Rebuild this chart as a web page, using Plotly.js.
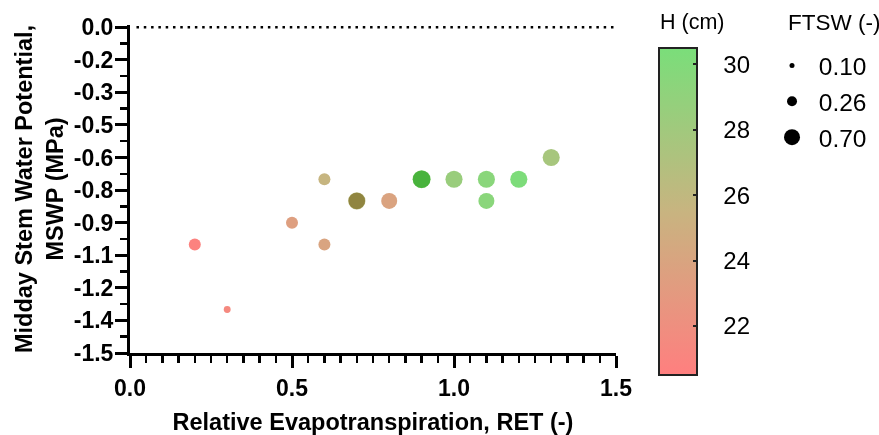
<!DOCTYPE html>
<html>
<head>
<meta charset="utf-8">
<script src="https://cdn.plot.ly/plotly-3.0.1.min.js"></script>
<style>
  html, body { margin: 0; padding: 0; background: #fff; }
  #chart { width: 879px; height: 435px; }
  /* overlapping observations darken each other */
  .js-plotly-plot .scatterlayer .trace path.point { mix-blend-mode: multiply; }
</style>
</head>
<body>
<div id="chart"></div>
<script>
// ---- data ----
const ret     = [0.2, 0.3, 0.5, 0.6, 0.6, 0.7, 0.7, 0.8, 0.9, 0.9, 1.0, 1.1, 1.1, 1.2, 1.3];
const mswp    = [-1.0, -1.3, -0.9, -1.0, -0.7, -0.8, -0.8, -0.8, -0.7, -0.7, -0.7, -0.7, -0.8, -0.7, -0.6];
const heightH = [20.8, 21.4, 23.5, 24.0, 25.6, 25.5, 26.5, 23.9, 29.0, 30.2, 28.5, 29.5, 29.5, 30.3, 27.6];
const ftsw    = [0.37, 0.16, 0.37, 0.37, 0.37, 0.62, 0.66, 0.59, 0.70, 0.68, 0.65, 0.65, 0.59, 0.65, 0.65];

const yTickLabels = ["0.0", "-0.2", "-0.3", "-0.5", "-0.6", "-0.8", "-0.9", "-1.1", "-1.2", "-1.4", "-1.5"];
const colorTicks  = [22, 24, 26, 28, 30];
const legendFtsw  = [0.10, 0.26, 0.70];

// ---- styling helpers ----
const FONT = 'Arial, "Liberation Sans", sans-serif';
const NB = '\u00a0';
const legendSizes = [5, 10, 18];   // marker diameter (px) for the legend FTSW values
function sizeFor(v) {
  if (v <= legendFtsw[0]) return legendSizes[0];
  for (let i = 1; i < legendFtsw.length; i++) {
    if (v <= legendFtsw[i]) {
      const f = (v - legendFtsw[i - 1]) / (legendFtsw[i] - legendFtsw[i - 1]);
      return legendSizes[i - 1] + f * (legendSizes[i] - legendSizes[i - 1]);
    }
  }
  return legendSizes[legendSizes.length - 1];
}

const colorscale = [
  [0.0, 'rgb(255,127,127)'],
  [0.5, 'rgb(200,180,128)'],
  [1.0, 'rgb(122,222,122)']
];

const yStep = 0.15;
const yTickVals = yTickLabels.map((_, i) => -yStep * i);

const traces = [{
  type: 'scatter',
  mode: 'markers',
  x: ret,
  y: mswp,
  showlegend: false,
  cliponaxis: false,
  marker: {
    size: ftsw.map(sizeFor),
    color: heightH,
    colorscale: colorscale,
    cmin: 20.5,
    cmax: 30.5,
    opacity: 1,
    line: { width: 0 },
    colorbar: {
      tickmode: 'array',
      tickvals: colorTicks,
      ticktext: colorTicks.map(v => NB + NB + NB + v),
      ticks: 'inside',
      ticklen: 5,
      tickwidth: 2,
      tickcolor: '#222',
      tickfont: { family: FONT, size: 24, color: '#000' },
      thickness: 38,
      thicknessmode: 'pixels',
      len: 327,
      lenmode: 'pixels',
      x: 1.0885,
      xanchor: 'left',
      xpad: 0,
      y: 0.9299,
      yanchor: 'top',
      ypad: 0,
      outlinewidth: 2,
      outlinecolor: '#222'
    }
  }
}];

legendFtsw.forEach((v, i) => {
  traces.push({
    type: 'scatter',
    mode: 'markers',
    x: [null],
    y: [null],
    name: NB + v.toFixed(2),
    legendgroup: 'g' + i,
    showlegend: true,
    marker: { size: sizeFor(v), color: '#000', line: { width: 0 } }
  });
});

const layout = {
  width: 879,
  height: 435,
  margin: { l: 130, r: 263, t: 25, b: 82, autoexpand: false },
  paper_bgcolor: '#fff',
  plot_bgcolor: '#fff',
  font: { family: FONT, color: '#000' },
  showlegend: true,
  legend: {
    font: { family: FONT, size: 24.5, color: '#000' },
    x: 1.321,
    xanchor: 'left',
    y: 0.945,
    yanchor: 'top',
    tracegroupgap: 1,
    traceorder: 'grouped',
    itemsizing: 'trace',
    bgcolor: 'rgba(0,0,0,0)'
  },
  annotations: [{
    text: 'H (cm)',
    xref: 'paper', yref: 'paper',
    x: 1.0864, y: 1.0091,
    xanchor: 'left', yanchor: 'middle',
    showarrow: false,
    font: { family: FONT, size: 21.5, color: '#000' }
  }, {
    text: 'FTSW (-)',
    xref: 'paper', yref: 'paper',
    x: 1.3498, y: 1.0091,
    xanchor: 'left', yanchor: 'middle',
    showarrow: false,
    font: { family: FONT, size: 22.5, color: '#000' }
  }],
  xaxis: {
    range: [0, 1.5],
    tickmode: 'linear',
    tick0: 0,
    dtick: 0.5,
    tickformat: '.1f',
    showgrid: false,
    zeroline: false,
    showline: true,
    linewidth: 3,
    linecolor: '#000',
    ticks: 'outside',
    ticklen: 12,
    tickwidth: 3,
    tickcolor: '#000',
    tickfont: { family: FONT, size: 23, color: '#000', weight: 'bold' },
    minor: { tickmode: 'linear', tick0: 0, dtick: 0.05, ticks: 'outside', ticklen: 7, tickwidth: 2.5, tickcolor: '#000', showgrid: false },
    title: { text: 'Relative Evapotranspiration, RET (-)', font: { family: FONT, size: 23.5, color: '#000', weight: 'bold' }, standoff: 17 },
    automargin: false
  },
  yaxis: {
    range: [-1.5, 0.01],
    tickmode: 'array',
    tickvals: yTickVals,
    ticktext: yTickLabels,
    showgrid: false,
    zeroline: false,
    showline: true,
    linewidth: 3,
    linecolor: '#000',
    ticks: 'outside',
    ticklen: 12,
    tickwidth: 3,
    tickcolor: '#000',
    ticklabelstandoff: -3,
    tickfont: { family: FONT, size: 23, color: '#000', weight: 'bold' },
    minor: { tickmode: 'linear', tick0: -yStep / 2, dtick: yStep, ticks: 'outside', ticklen: 7, tickwidth: 2.5, tickcolor: '#000', showgrid: false },
    title: { text: 'Midday Stem Water Potential,<br>MSWP (MPa)', font: { family: FONT, size: 23.5, color: '#000', weight: 'bold' }, standoff: 4 },
    automargin: false
  },
  shapes: [{
    type: 'line',
    xref: 'x', yref: 'y',
    x0: 0.02, x1: 1.5, y0: 0, y1: 0,
    line: { color: '#000', width: 2.5, dash: '2.5px,4.8px' },
    layer: 'above'
  }]
};

Plotly.newPlot('chart', traces, layout, { displayModeBar: false, staticPlot: true });
</script>
</body>
</html>
